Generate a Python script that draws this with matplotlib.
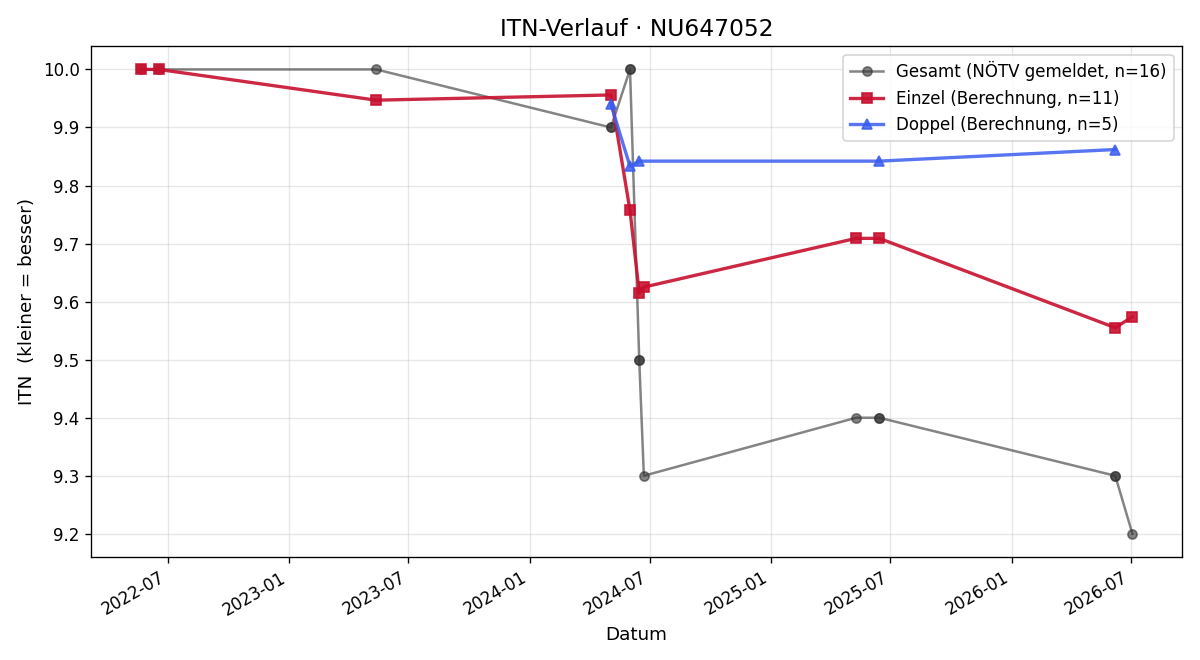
"""ITN-Verlauf fuer einen Spieler: gemeldete Werte vs. berechnete Einzel/Doppel-Werte."""

import matplotlib

matplotlib.use("Agg")
import matplotlib.dates as mdates
import matplotlib.pyplot as plt
import pandas as pd

PLAYER_ID = "NU647052"

# Gesamt (NÖTV gemeldet), mehrfach gemeldete Tage doppelt
gesamt_dates = [
    "2022-05-21", "2022-06-17", "2023-05-13", "2024-05-03", "2024-05-03",
    "2024-06-01", "2024-06-01", "2024-06-15", "2024-06-15", "2024-06-22",
    "2025-05-10", "2025-06-14", "2025-06-14", "2026-06-07", "2026-06-07",
    "2026-07-03",
]
gesamt_itn = [
    10.0, 10.0, 10.0, 9.9, 9.9,
    10.0, 10.0, 9.5, 9.5, 9.3,
    9.4, 9.4, 9.4, 9.3, 9.3,
    9.2,
]

einzel_dates = [
    "2022-05-21", "2022-06-17", "2023-05-13", "2024-05-03", "2024-06-01",
    "2024-06-15", "2024-06-22", "2025-05-10", "2025-06-14", "2026-06-07",
    "2026-07-03",
]
einzel_itn = [
    10.0, 10.0, 9.947, 9.956, 9.757,
    9.615, 9.625, 9.709, 9.709, 9.555,
    9.574,
]

doppel_dates = ["2024-05-03", "2024-06-01", "2024-06-15", "2025-06-14", "2026-06-07"]
doppel_itn = [9.940, 9.833, 9.842, 9.842, 9.862]


def main() -> None:
    fig, ax = plt.subplots(figsize=(10, 5.5), dpi=120)

    ax.plot(
        pd.to_datetime(gesamt_dates), gesamt_itn,
        marker="o", ms=5.5, lw=1.5, color="#333333", alpha=0.6,
        label=f"Gesamt (NÖTV gemeldet, n={len(gesamt_itn)})",
    )
    ax.plot(
        pd.to_datetime(einzel_dates), einzel_itn,
        marker="s", ms=6, lw=2, color="#c8102e", alpha=0.9,
        label=f"Einzel (Berechnung, n={len(einzel_itn)})",
    )
    ax.plot(
        pd.to_datetime(doppel_dates), doppel_itn,
        marker="^", ms=6, lw=2, color="#3a5df0", alpha=0.85,
        label=f"Doppel (Berechnung, n={len(doppel_itn)})",
    )

    ax.set_title(f"ITN-Verlauf · {PLAYER_ID}", fontsize=14)
    ax.set_xlabel("Datum", fontsize=11)
    ax.set_ylabel("ITN  (kleiner = besser)", fontsize=11)
    ax.xaxis.set_major_locator(mdates.MonthLocator(bymonth=(1, 7)))
    ax.xaxis.set_major_formatter(mdates.DateFormatter("%Y-%m"))
    ax.grid(True, alpha=0.3)
    ax.legend(loc="upper right")

    fig.autofmt_xdate()
    fig.subplots_adjust(left=0.076, right=0.985, top=0.930, bottom=0.156)
    fig.savefig("out.png", dpi=120)
    plt.close(fig)


if __name__ == "__main__":
    main()
